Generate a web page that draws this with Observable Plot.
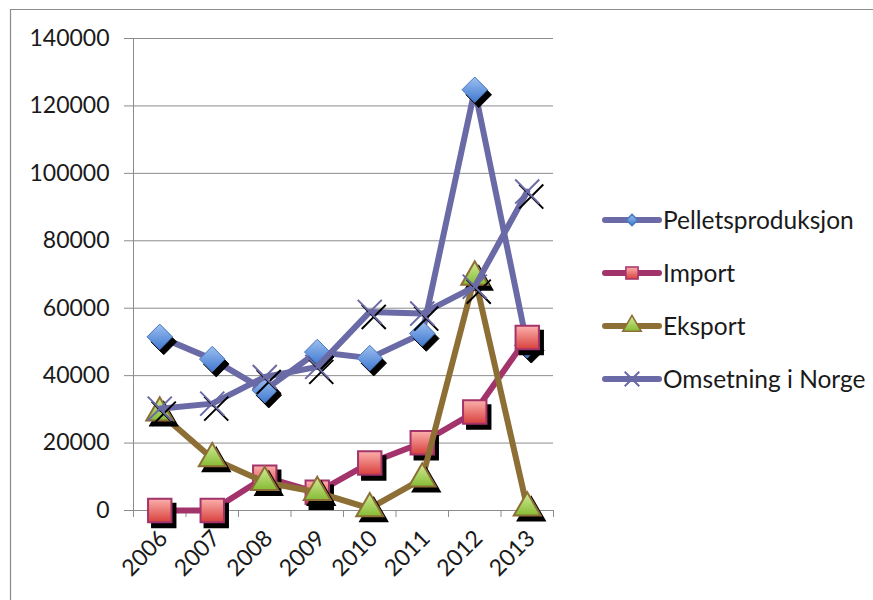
<!DOCTYPE html>
<html>
<head>
<meta charset="utf-8">
<script src="https://cdn.jsdelivr.net/npm/d3@7"></script>
<script src="https://cdn.jsdelivr.net/npm/@observablehq/plot@0.6"></script>
<style>
  html, body { margin: 0; padding: 0; background: white; }
  #chart { position: relative; width: 873px; height: 600px; overflow: hidden; }
</style>
</head>
<body>
<div id="chart"></div>
<script>
// ---- data ----
const years = [2006, 2007, 2008, 2009, 2010, 2011, 2012, 2013];
const pelletsproduksjon = [51500, 44900, 35700, 47000, 45200, 52500, 124800, 49000];
const importVals = [0, 0, 9900, 5400, 14100, 20100, 29200, 51300];
const eksport = [29000, 15400, 8400, 5400, 600, 9400, 69300, 800];
const omsetning = [30200, 31700, 39600, 42600, 58900, 58400, 66400, 94600];
const seriesNames = ["Pelletsproduksjon", "Import", "Eksport", "Omsetning i Norge"];
const yTicks = [0, 20000, 40000, 60000, 80000, 100000, 120000, 140000];

// ---- styles ----
const styles = [
  {values: pelletsproduksjon, line: "#6a6aa6", symbol: "diamond2", r: 11.5, fill: "url(#gDiamond)", mstroke: "#4a78bd", msw: 1},
  {values: importVals, line: "#a3336b", symbol: "square", r: 13.2, fill: "url(#gSquare)", mstroke: "#a3336b", msw: 2},
  {values: eksport, line: "#8d6f36", symbol: "triangle", r: 10, fill: "url(#gTriangle)", mstroke: "#8d6f36", msw: 2},
  {values: omsetning, line: "#6a6aa6", symbol: "times", r: 11, fill: "none", mstroke: "#6a6aa6", msw: 2}
];

const series = seriesNames.map((name, i) => ({
  name, ...styles[i],
  data: years.map((year, j) => ({year, value: styles[i].values[j], name}))
}));

const boundaries = d3.range(years.length + 1).map(i => years[0] - 0.5 + i);

const marks = [
  Plot.gridY(yTicks, {stroke: "#8c8c8c", strokeOpacity: 1}),
  Plot.axisY(yTicks, {tickSize: 9, tickPadding: 15, stroke: "#8c8c8c", fill: "#1a1a1a", tickFormat: d => String(d), fontSize: 23, label: null}),
  Plot.ruleX([boundaries[0]], {stroke: "#8c8c8c"}),
  Plot.ruleY([0], {stroke: "#8c8c8c"}),
  Plot.axisX(boundaries, {tickSize: 7, stroke: "#8c8c8c", tickFormat: () => "", label: null}),
  Plot.axisX(years, {tickSize: 0, tickRotate: -45, tickPadding: 24, dx: 4, fill: "#1a1a1a", tickFormat: d => String(d), fontSize: 23, label: null})
];

for (const s of series) {
  marks.push(Plot.line(s.data, {x: "year", y: "value", stroke: s.line, strokeWidth: 6, strokeLinejoin: "round", strokeLinecap: "round"}));
  if (s.symbol === "times") {
    marks.push(Plot.dot(s.data, {x: "year", y: "value", symbol: "times", r: s.r, stroke: "black", strokeWidth: s.msw, dx: 4, dy: 5}));
    marks.push(Plot.dot(s.data, {x: "year", y: "value", symbol: "times", r: s.r, stroke: s.mstroke, strokeWidth: s.msw}));
  } else {
    marks.push(Plot.dot(s.data, {x: "year", y: "value", symbol: s.symbol, r: s.r, fill: "black", stroke: "black", strokeWidth: s.msw, dx: 4, dy: 5}));
    marks.push(Plot.dot(s.data, {x: "year", y: "value", symbol: s.symbol, r: s.r, fill: s.fill, stroke: s.mstroke, strokeWidth: s.msw}));
  }
}

const chart = Plot.plot({
  width: 873,
  height: 600,
  marginLeft: 133,
  marginRight: 320,
  marginTop: 38,
  marginBottom: 90,
  x: {domain: [boundaries[0], boundaries[boundaries.length - 1]]},
  y: {domain: [0, 140000]},
  style: {fontFamily: "Lato, 'Open Sans', sans-serif", fontSize: "23px", background: "white", color: "#1a1a1a"},
  marks
});

document.getElementById("chart").appendChild(chart);

// ---- gradients ----
const svg = d3.select(chart);
const defs = svg.insert("defs", ":first-child");
function grad(id, top, bottom) {
  const g = defs.append("linearGradient").attr("id", id).attr("x1", 0).attr("y1", 0).attr("x2", 0).attr("y2", 1);
  g.append("stop").attr("offset", "0%").attr("stop-color", top);
  g.append("stop").attr("offset", "100%").attr("stop-color", bottom);
}
grad("gDiamond", "#9dc0f0", "#3f78d0");
grad("gSquare", "#fbb0ac", "#d9403c");
grad("gTriangle", "#d3eb98", "#86bb34");

// ---- chart area border (top & left edges visible) ----
svg.append("path").attr("d", "M10.5,600 V9.5 H873").attr("fill", "none").attr("stroke", "#8c8c8c").attr("stroke-width", 1.2);

// ---- legend ----
const legend = svg.append("g").attr("transform", "translate(603,220)");
const symMap = {diamond2: d3.symbolDiamond2, square: d3.symbolSquare, triangle: d3.symbolTriangle, times: d3.symbolTimes};
const legendSizes = {diamond2: 80, square: 150, triangle: 150, times: 140};
series.forEach((s, i) => {
  const g = legend.append("g").attr("transform", `translate(0,${i * 53})`);
  g.append("line").attr("x1", 2).attr("x2", 56).attr("y1", 0).attr("y2", 0)
    .attr("stroke", s.line).attr("stroke-width", 6).attr("stroke-linecap", "round");
  g.append("path").attr("transform", "translate(29,0)")
    .attr("d", d3.symbol(symMap[s.symbol], legendSizes[s.symbol])())
    .attr("fill", s.fill).attr("stroke", s.mstroke).attr("stroke-width", s.symbol === "times" ? 2 : 1.5);
  g.append("text").attr("x", 60).attr("y", 0).attr("dy", "0.35em")
    .attr("text-anchor", "start")
    .attr("font-size", 24.5).attr("fill", "#1a1a1a").attr("font-family", "Lato, 'Open Sans', sans-serif")
    .text(s.name);
});
</script>
</body>
</html>
